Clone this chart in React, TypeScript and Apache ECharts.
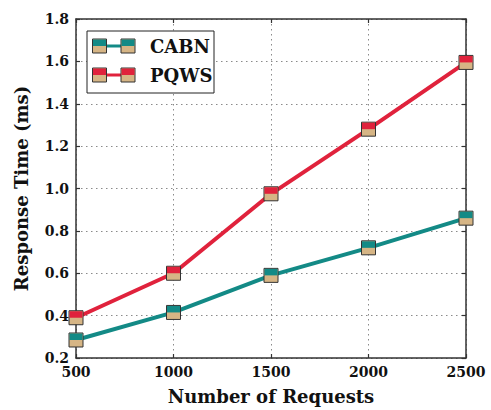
import React, { useEffect, useRef } from "react";
import * as echarts from "echarts";

const requests = [500, 1000, 1500, 2000, 2500];
const cabnValues = [0.285, 0.415, 0.59, 0.72, 0.86];
const pqwsValues = [0.39, 0.6, 0.975, 1.28, 1.595];
const seriesNames = ["CABN", "PQWS"];
const seriesColors = ["#138a86", "#e0223c"];
const tan = "#d6b585";
const FONT = "DejaVu Serif";

export default function App() {
  const ref = useRef<HTMLDivElement>(null);
  useEffect(() => {
    if (!ref.current) return;
    const chart = echarts.init(ref.current, null, { renderer: "svg" });
    const seriesData = [cabnValues, pqwsValues];
    const series: any[] = [];
    seriesData.forEach((vals, i) => {
      const data = requests.map((x, j) => [x, vals[j]]);
      series.push({
        type: "line",
        name: seriesNames[i],
        data,
        symbol: "rect",
        symbolSize: 14,
        showSymbol: true,
        silent: true,
        z: 2 + i * 2,
        lineStyle: { color: seriesColors[i], width: 4 },
        itemStyle: { color: tan, borderColor: "#333", borderWidth: 1 },
      });
      series.push({
        type: "scatter",
        data,
        symbol: "rect",
        symbolSize: [13, 6.5],
        symbolOffset: [0, -3.25],
        silent: true,
        z: 3 + i * 2,
        itemStyle: { color: seriesColors[i], opacity: 1 },
      });
    });

    const legendX = 87;
    const legendY = 31;
    const legendElems: any[] = [
      {
        type: "rect",
        shape: { x: legendX, y: legendY, width: 127, height: 62 },
        style: { fill: "#fff", stroke: "#222", lineWidth: 1 },
        z: 100,
      },
    ];
    seriesNames.forEach((name, i) => {
      const cy = 46 + i * 29;
      legendElems.push({
        type: "line",
        shape: { x1: 100, y1: cy, x2: 128, y2: cy },
        style: { stroke: seriesColors[i], lineWidth: 3 },
        z: 101,
      });
      [99.5, 128].forEach((cx) => {
        legendElems.push({
          type: "rect",
          shape: { x: cx - 7, y: cy - 7, width: 14, height: 14 },
          style: { fill: tan, stroke: "#333", lineWidth: 1 },
          z: 102,
        });
        legendElems.push({
          type: "rect",
          shape: { x: cx - 6.5, y: cy - 6.5, width: 13, height: 6.5 },
          style: { fill: seriesColors[i] },
          z: 103,
        });
      });
      legendElems.push({
        type: "text",
        x: 150,
        y: cy,
        style: {
          text: name,
          fill: "#111",
          font: `bold 18px "${FONT}"`,
          verticalAlign: "middle",
          align: "left",
        },
        z: 104,
      });
    });

    const axisLine = { show: true, lineStyle: { color: "#333", width: 1.5 } };
    const tick = { show: true, inside: true, length: 4, lineStyle: { color: "#333", width: 1.2 } };
    const split = { show: true, lineStyle: { color: "#8a8a8a", width: 1, type: [1.5, 3.5] } };
    const labelStyle = { color: "#111", fontFamily: FONT, fontWeight: "bold", fontSize: 14 };
    const nameStyle = { color: "#111", fontFamily: FONT, fontWeight: "bold", fontSize: 18 };

    chart.setOption({
      animation: false,
      backgroundColor: "#fff",
      grid: { left: 76, right: 25, top: 19, bottom: 51 },
      xAxis: [
        {
          type: "value",
          min: 500,
          max: 2500,
          interval: 500,
          position: "bottom",
          axisLine,
          axisTick: tick,
          splitLine: split,
          axisLabel: { ...labelStyle, margin: 7, formatter: (v: number) => String(v) },
          name: "Number of Requests",
          nameLocation: "middle",
          nameGap: 29,
          nameTextStyle: nameStyle,
        },
        {
          type: "value",
          min: 500,
          max: 2500,
          interval: 500,
          position: "top",
          axisLine,
          axisTick: tick,
          splitLine: { show: false },
          axisLabel: { show: false },
        },
      ],
      yAxis: [
        {
          type: "value",
          min: 0.2,
          max: 1.8,
          interval: 0.2,
          position: "left",
          axisLine,
          axisTick: tick,
          splitLine: split,
          axisLabel: { ...labelStyle, margin: 7, formatter: (v: number) => v.toFixed(1) },
          name: "Response Time (ms)",
          nameLocation: "middle",
          nameGap: 46,
          nameTextStyle: nameStyle,
        },
        {
          type: "value",
          min: 0.2,
          max: 1.8,
          interval: 0.2,
          position: "right",
          axisLine,
          axisTick: tick,
          splitLine: { show: false },
          axisLabel: { show: false },
        },
      ],
      series,
      graphic: legendElems,
    });
    return () => chart.dispose();
  }, []);
  return <div ref={ref} style={{ width: 491, height: 410, position: "absolute", left: 0, top: 0 }} />;
}
